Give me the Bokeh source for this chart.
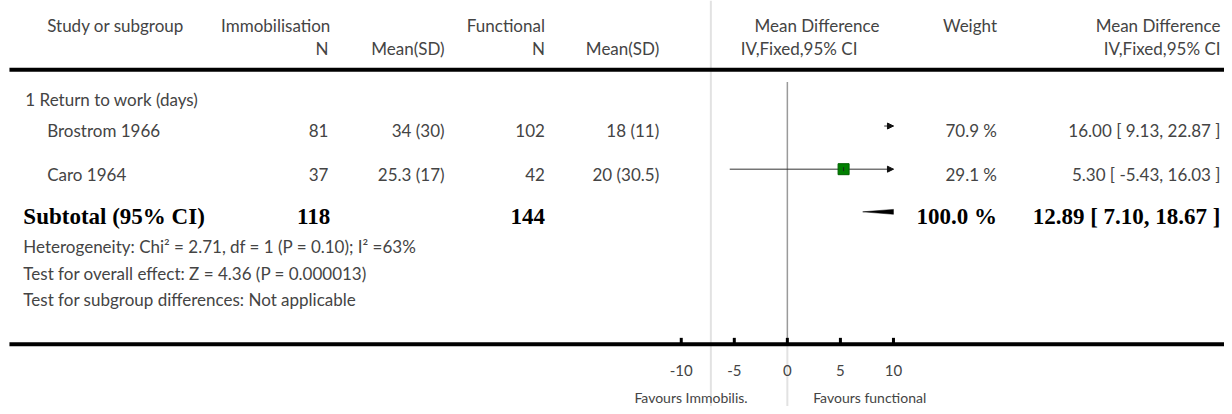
import math
from bokeh.plotting import figure
from bokeh.models import Range1d, ColumnDataSource, Arrow, NormalHead
from bokeh.core.properties import value
from bokeh.embed import file_html
from bokeh.resources import INLINE

# ---------------- data ----------------
subgroup_title = "1 Return to work (days)"
study = ["Brostrom 1966", "Caro 1964"]
n_imm = [81, 37]
meansd_imm = ["34 (30)", "25.3 (17)"]
n_fun = [102, 42]
meansd_fun = ["18 (11)", "20 (30.5)"]
md = [16.00, 5.30]
ci_lo = [9.13, -5.43]
ci_hi = [22.87, 16.03]
weight = [70.9, 29.1]

sub_n_imm = 118
sub_n_fun = 144
sub_md = 12.89
sub_lo = 7.10
sub_hi = 18.67
sub_weight = 100.0

footer_lines = [
    "Heterogeneity: Chi\u00b2 = 2.71, df = 1 (P = 0.10); I\u00b2 =63%",
    "Test for overall effect: Z = 4.36 (P = 0.000013)",
    "Test for subgroup differences: Not applicable",
]
ticks = [-10, -5, 0, 5, 10]
tick_labels = ["-10", "-5", "0", "5", "10"]
x_min, x_max = -10, 10
favours_left = "Favours Immobilis."
favours_right = "Favours functional"

# ---------------- layout ----------------
W, H = 1224, 406          # figure size in pixels
RW, RH = 1232, 414        # layout coordinate space
ZERO_PX = 792.0
PPU = 10.68
FONT = "Lato"
SERIF = "Liberation Serif"
TXT = "#444444"
BSIZE = "23px"

p = figure(width=W, height=H, x_range=Range1d(0, RW), y_range=Range1d(RH, 0),
           output_backend="svg", toolbar_location=None, min_border=0,
           x_axis_location=None, y_axis_location=None)
p.grid.visible = False
p.outline_line_color = None
p.background_fill_color = "white"
p.border_fill_color = "white"
p.extra_x_ranges = {"md": Range1d((0 - ZERO_PX) / PPU, (RW - ZERO_PX) / PPU)}


def txt(xs, ys, texts, align="left", font=FONT, size="17px", style="normal",
        color=TXT, rng="default"):
    px = float(size.replace("px", ""))
    shift = 6.0 * px / 17.0
    p.text(x=xs, y=[y - shift for y in ys], text=texts, text_align=align,
           text_baseline="alphabetic",
           text_font=value(font), text_font_size=size, text_font_style=style,
           text_color=color, x_range_name=rng)


# separator lines
p.segment(x0=[715], y0=[0], x1=[715], y1=[RH + 5], line_color="#e2e2e2", line_width=2)
p.segment(x0=[0], y0=[83], x1=[0], y1=[350], line_color="#9a9a9a", line_width=1.5, x_range_name="md")
p.segment(x0=[0], y0=[350], x1=[0], y1=[RH + 5], line_color="#e2e2e2", line_width=2, x_range_name="md")

# header
txt([47], [31], ["Study or subgroup"])
txt([332, 548], [31, 31], ["Immobilisation", "Functional"], align="right")
txt([759], [31], ["Mean Difference"])
txt([1003, 1228], [31, 31], ["Weight", "Mean Difference"], align="right")
txt([330, 447, 548, 663], [55] * 4, ["N", "Mean(SD)", "N", "Mean(SD)"], align="right")
txt([745], [55], ["IV,Fixed,95% CI"])
txt([1228], [55], ["IV,Fixed,95% CI"], align="right")
p.segment(x0=[9], y0=[70.5], x1=[RW + 5], y1=[70.5], line_color="black", line_width=4)

# subgroup title
txt([25], [107], [subgroup_title])

# study rows
row_base = [139, 183]
txt([47] * 2, row_base, study)
txt([330] * 2, row_base, [str(v) for v in n_imm], align="right")
txt([447] * 2, row_base, meansd_imm, align="right")
txt([548] * 2, row_base, [str(v) for v in n_fun], align="right")
txt([663] * 2, row_base, meansd_fun, align="right")
txt([1003] * 2, row_base, ["%.1f %%" % w for w in weight], align="right")
txt([1228] * 2, row_base,
    ["%.2f [ %.2f, %.2f ]" % (m, l, h) for m, l, h in zip(md, ci_lo, ci_hi)], align="right")

line_y = [b - 11 for b in row_base]
x0s = [max(l, x_min) for l in ci_lo]
x1s = [min(h, x_max) for h in ci_hi]
p.segment(x0=x0s, y0=line_y, x1=x1s, y1=line_y, line_color="#333333", line_width=1,
          x_range_name="md")
# arrows where CI is clipped
ar_x0, ar_x1, ar_y = [], [], []
for l, h, y in zip(ci_lo, ci_hi, line_y):
    if h > x_max:
        ar_x0.append(x_max - 0.3); ar_x1.append(x_max); ar_y.append(y)
    if l < x_min:
        ar_x0.append(x_min + 0.3); ar_x1.append(x_min); ar_y.append(y)
if ar_x0:
    asrc = ColumnDataSource(dict(x0=ar_x0, x1=ar_x1, y=ar_y))
    p.add_layout(Arrow(end=NormalHead(size=6, fill_color="#111111", line_color="#111111",
                                      line_width=1),
                       x_start="x0", y_start="y", x_end="x1", y_end="y",
                       line_color="#333333", line_width=1, source=asrc, x_range_name="md"))
# squares (only when inside range)
sq_x, sq_y, sq_s = [], [], []
for m, w, y in zip(md, weight, line_y):
    if x_min <= m <= x_max:
        sq_x.append(m); sq_y.append(y); sq_s.append(11 * math.sqrt(w / 29.1))
if sq_x:
    p.scatter(x=sq_x, y=sq_y, size=sq_s, marker="square", fill_color="#008000",
              line_color="#006000", line_width=1, x_range_name="md")
    p.scatter(x=sq_x, y=sq_y, size=4, marker="dash", angle=math.pi / 2,
              line_color="#222222", line_width=1, x_range_name="md")

# subtotal
sub_base = 228
txt([23], [sub_base], ["Subtotal (95% CI)"], font=SERIF, size=BSIZE, style="bold", color="black")
txt([332, 548], [sub_base] * 2, [str(sub_n_imm), str(sub_n_fun)], align="right",
    font=SERIF, size=BSIZE, style="bold", color="black")
txt([1003], [sub_base], ["%.1f %%" % sub_weight], align="right",
    font=SERIF, size=BSIZE, style="bold", color="black")
txt([1228], [sub_base], ["%.2f [ %.2f, %.2f ]" % (sub_md, sub_lo, sub_hi)], align="right",
    font=SERIF, size=BSIZE, style="bold", color="black")


def clip_poly(xs, ys, lo, hi):
    pts = list(zip(xs, ys))

    def clip(pts, inside, inter):
        out = []
        for i in range(len(pts)):
            a, b = pts[i - 1], pts[i]
            if inside(b):
                if not inside(a):
                    out.append(inter(a, b))
                out.append(b)
            elif inside(a):
                out.append(inter(a, b))
        return out

    def inter_x(xc):
        def f(a, b):
            t = (xc - a[0]) / (b[0] - a[0])
            return (xc, a[1] + t * (b[1] - a[1]))
        return f

    pts = clip(pts, lambda q: q[0] <= hi, inter_x(hi))
    pts = clip(pts, lambda q: q[0] >= lo, inter_x(lo))
    return [q[0] for q in pts], [q[1] for q in pts]


dy = sub_base - 12.5
half_h = 5.0
dxs, dys = clip_poly([sub_lo, sub_md, sub_hi, sub_md],
                     [dy, dy - half_h, dy, dy + half_h], x_min, x_max)
p.patch(x=dxs, y=dys, fill_color="black", line_color="black", line_width=0.5, x_range_name="md")

# footer texts
txt([23] * 3, [257, 284, 311], footer_lines)

# axis
p.segment(x0=[9], y0=[350.5], x1=[RW + 5], y1=[350.5], line_color="black", line_width=4)
p.segment(x0=ticks, y0=[344] * len(ticks), x1=ticks, y1=[350] * len(ticks),
          line_color="black", line_width=3, x_range_name="md")
txt(ticks, [383] * len(ticks), tick_labels, align="center", size="15px", rng="md")
txt([752], [410], [favours_left], align="right", size="14px")
txt([818], [410], [favours_right], align="left", size="14px")

open("out.html", "w").write(file_html(p, INLINE))
